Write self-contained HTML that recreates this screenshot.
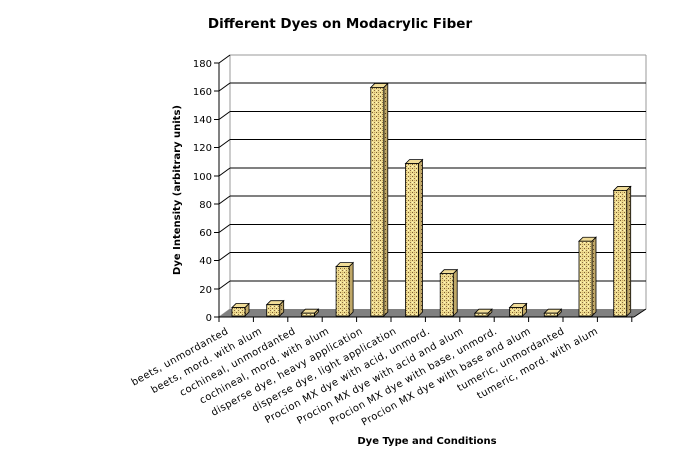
<!DOCTYPE html>
<html><head><meta charset="utf-8"><style>
body{margin:0;background:#fff;}
svg{display:block;font-family:"DejaVu Sans","Liberation Sans",sans-serif;}
</style></head><body>
<svg width="683" height="467" xmlns="http://www.w3.org/2000/svg">
<defs>
<pattern id="p" width="4" height="4" patternUnits="userSpaceOnUse">
<rect width="4" height="4" fill="#eedb90"/>
<rect x="0" y="0" width="1" height="1" fill="#7a5a30"/>
<rect x="2" y="2" width="1" height="1" fill="#8a6a40"/>
<rect x="2" y="0" width="1" height="1" fill="#c8a860"/>
<rect x="0" y="2" width="1" height="1" fill="#fff8c0"/>
</pattern>
<pattern id="ps" width="4" height="4" patternUnits="userSpaceOnUse">
<rect width="4" height="4" fill="#c0a868"/>
<rect x="1" y="1" width="1" height="1" fill="#5a4020"/>
</pattern>
</defs>
<text x="340" y="28" text-anchor="middle" font-size="13.5" font-weight="bold">Different Dyes on Modacrylic Fiber</text>
<polyline points="219,317 230,309 230,55" fill="none" stroke="#999" stroke-width="1"/>
<line x1="230" y1="55" x2="646" y2="55" stroke="#999"/>
<line x1="646" y1="55" x2="646" y2="309" stroke="#999"/>
<g stroke="#000" stroke-width="1">
<line x1="230" y1="83" x2="646" y2="83"/><line x1="230" y1="111.5" x2="646" y2="111.5"/>
<line x1="230" y1="139.5" x2="646" y2="139.5"/><line x1="230" y1="168" x2="646" y2="168"/>
<line x1="230" y1="196" x2="646" y2="196"/><line x1="230" y1="224.5" x2="646" y2="224.5"/>
<line x1="230" y1="252.5" x2="646" y2="252.5"/><line x1="230" y1="281" x2="646" y2="281"/>
</g>
<g stroke="#000" stroke-width="1" fill="none">
<polyline points="219,91 230,83"/><polyline points="219,119.5 230,111.5"/><polyline points="219,147.5 230,139.5"/><polyline points="219,176 230,168"/><polyline points="219,204 230,196"/><polyline points="219,232.5 230,224.5"/><polyline points="219,260.5 230,252.5"/><polyline points="219,289 230,281"/><polyline points="219,63 230,55"/>
</g>
<polygon points="219,317 634,317 646,309 230,309" fill="#808080"/>
<line x1="634" y1="317" x2="646" y2="309" stroke="#000"/>
<line x1="219" y1="63" x2="219" y2="317" stroke="#000"/>
<line x1="216" y1="317" x2="634" y2="317" stroke="#000"/>
<g stroke="#000">
<line x1="214" y1="63" x2="219" y2="63"/><line x1="214" y1="91" x2="219" y2="91"/><line x1="214" y1="119.5" x2="219" y2="119.5"/><line x1="214" y1="147.5" x2="219" y2="147.5"/><line x1="214" y1="176" x2="219" y2="176"/><line x1="214" y1="204" x2="219" y2="204"/><line x1="214" y1="232.5" x2="219" y2="232.5"/><line x1="214" y1="260.5" x2="219" y2="260.5"/><line x1="214" y1="289" x2="219" y2="289"/><line x1="214" y1="317" x2="219" y2="317"/>
</g>
<g font-size="10" text-anchor="end">
<text x="212" y="67">180</text><text x="212" y="95">160</text><text x="212" y="123">140</text><text x="212" y="151">120</text><text x="212" y="180">100</text><text x="212" y="208">80</text><text x="212" y="236">60</text><text x="212" y="264">40</text><text x="212" y="293">20</text><text x="212" y="321">0</text>
</g>
<text transform="translate(180,190) rotate(-90)" text-anchor="middle" font-size="10" font-weight="bold">Dye Intensity (arbitrary units)</text>
<g id="ticks" stroke="#000"></g>
<g id="bars"></g>
<g id="labels" font-size="10" text-anchor="end" letter-spacing="0.4"></g>
<text x="427" y="444" text-anchor="middle" font-size="10" font-weight="bold">Dye Type and Conditions</text>
<script>
var v=[6,8,2,35,162,108,30,2,6,2,53,89];
var L=["beets, unmordanted","beets, mord. with alum","cochineal, unmordanted","cochineal, mord. with alum","disperse dye, heavy application","disperse dye, light application","Procion MX dye with acid, unmord.","Procion MX dye with acid and alum","Procion MX dye with base, unmord.","Procion MX dye with base and alum","tumeric, unmordanted","tumeric, mord. with alum"];
var ns="http://www.w3.org/2000/svg",B=document.getElementById("bars"),T=document.getElementById("ticks"),G=document.getElementById("labels");
function el(t,a,p){var e=document.createElementNS(ns,t);for(var k in a)e.setAttribute(k,a[k]);p.appendChild(e);return e;}
for(var i=0;i<=12;i++){var tx=219+i*34.4;el("line",{x1:tx,y1:317,x2:tx,y2:322},T);}
for(var i=0;i<12;i++){
var x=232+i*34.7,w=13,b=316,h=v[i]*1.411,t=b-h,d=4;
el("polygon",{points:[x+w,b,x+w+d,b-d,x+w+d,t-d,x+w,t].join(","),fill:"url(#ps)",stroke:"#000","stroke-width":0.8},B);
el("polygon",{points:[x,t,x+d,t-d,x+w+d,t-d,x+w,t].join(","),fill:"#f0dc98",stroke:"#000","stroke-width":0.8},B);
el("rect",{x:x,y:t,width:w,height:h,fill:"url(#p)",stroke:"#000","stroke-width":0.8},B);
var lx=229+i*33.6,ly=333;
var s=el("text",{x:lx,y:ly,transform:"rotate(-29 "+lx+" "+ly+")"},G);s.textContent=L[i];
}
</script>
</svg>
</body></html>
